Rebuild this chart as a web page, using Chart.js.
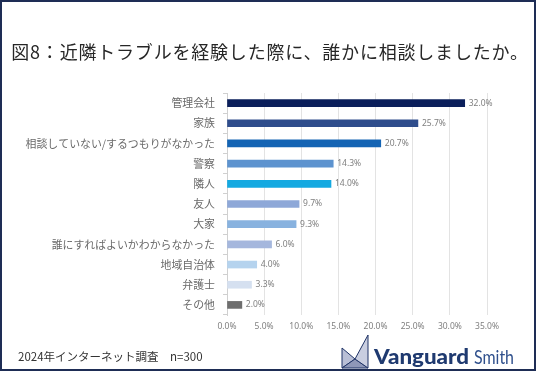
<!DOCTYPE html>
<html>
<head>
<meta charset="utf-8">
<script src="https://cdn.jsdelivr.net/npm/chart.js@4.4.1/dist/chart.umd.min.js"></script>
<style>
  html, body { margin: 0; padding: 0; background: #fff; }
  #wrap {
    position: relative; width: 536px; height: 371px; box-sizing: border-box;
    border: 2px solid #1e2d55; overflow: hidden;
    font-family: "Noto Sans CJK JP", "Noto Sans", sans-serif;
  }
  #title {
    position: absolute; left: 0; top: 36px; width: 536px; text-align: center;
    font-size: 18px; color: #262626; letter-spacing: 0.8px;
  }
  #note {
    position: absolute; left: 16px; top: 346px; font-size: 11.5px; color: #333;
  }
  #logo { position: absolute; left: 336px; top: 330px; }
  canvas { position: absolute; left: -2px; top: -2px; }
</style>
</head>
<body>
<div id="wrap">
  <canvas id="chart" width="536" height="371"></canvas>
  <div id="title">図8：近隣トラブルを経験した際に、誰かに相談しましたか。</div>
  <div id="note">2024年インターネット調査　n=300</div>
  <svg id="logo" width="200" height="40" viewBox="0 0 200 40">
    <polygon points="4,16 17,27 4,36" fill="#b9bfd6" stroke="#1f3366" stroke-width="1"/>
    <polygon points="4,36 17,27 30,36" fill="#8e97b8" stroke="#1f3366" stroke-width="1"/>
    <polygon points="30,3 30,36 17,27" fill="#c9cee0" stroke="#1f3366" stroke-width="1"/>
    <text x="36" y="32" font-family="Lato, 'Open Sans', sans-serif" font-weight="900" font-size="21" fill="#1f3a70" textLength="95" lengthAdjust="spacingAndGlyphs">Vanguard</text>
    <text x="136" y="32" font-family="Lato, 'Open Sans', sans-serif" font-size="20" fill="#2e4f8c" textLength="40" lengthAdjust="spacingAndGlyphs">Smith</text>
  </svg>
</div>
<script>
// 回答項目と割合(%)
const categories = ['管理会社', '家族', '相談していない/するつもりがなかった', '警察', '隣人', '友人', '大家', '誰にすればよいかわからなかった', '地域自治体', '弁護士', 'その他'];
const values = [32.0, 25.7, 20.7, 14.3, 14.0, 9.7, 9.3, 6.0, 4.0, 3.3, 2.0];
const barColors = ['#0b1f5b', '#2f4d8c', '#1464b4', '#5d93cf', '#14a9e1', '#8ea8d8', '#88b2df', '#a5b7dd', '#b5d3ee', '#d5e0f0', '#6e6e6e'];

// バーの右側に値を表示
const valueLabels = {
    id: 'valueLabels',
    afterDatasetsDraw(chart) {
        const ctx = chart.ctx;
        const meta = chart.getDatasetMeta(0);
        ctx.save();
        ctx.font = '8.5px "Noto Sans", sans-serif';
        ctx.fillStyle = '#7f7f7f';
        ctx.textBaseline = 'middle';
        meta.data.forEach((bar, i) => {
            ctx.fillText(values[i].toFixed(1) + '%', bar.x + 4, bar.y);
        });
        ctx.restore();
    }
};

new Chart(document.getElementById('chart'), {
    type: 'bar',
    data: {
        labels: categories,
        datasets: [{
            data: values,
            backgroundColor: barColors,
            barThickness: 7
        }]
    },
    options: {
        indexAxis: 'y',
        responsive: false,
        animation: false,
        layout: { padding: { left: 0, top: 93, right: 49, bottom: 36 } },
        plugins: { legend: { display: false }, tooltip: { enabled: false } },
        scales: {
            x: {
                min: 0, max: 35,
                ticks: {
                    stepSize: 5,
                    padding: 6,
                    color: '#7f7f7f',
                    font: { size: 8.5, family: '"Noto Sans", sans-serif' },
                    callback: v => v.toFixed(1) + '%'
                },
                grid: { color: '#e3e3e3', drawTicks: false },
                border: { display: false },
                afterFit(scale) { scale.height = 20; }
            },
            y: {
                ticks: {
                    color: '#6a6a6a',
                    padding: 8,
                    font: { size: 10.9, family: '"Noto Sans CJK JP", sans-serif' }
                },
                grid: { offset: true, drawOnChartArea: false, tickLength: 4, color: '#d0d0d0' },
                border: { color: '#d0d0d0' },
                afterFit(scale) { scale.width = 227; }
            }
        }
    },
    plugins: [valueLabels]
});
</script>
</body>
</html>
